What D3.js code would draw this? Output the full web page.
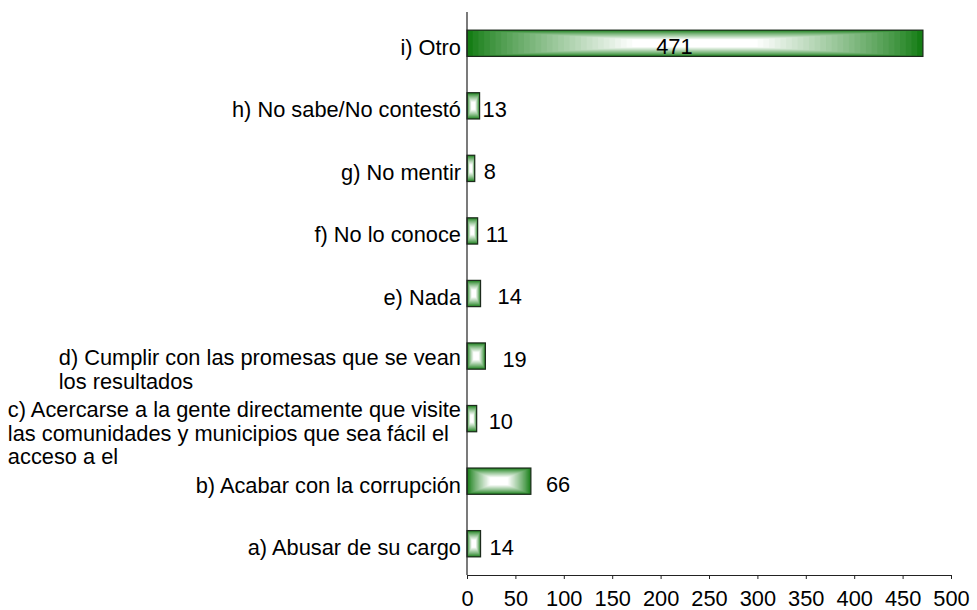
<!DOCTYPE html>
<html>
<head>
<meta charset="utf-8">
<script src="https://cdn.jsdelivr.net/npm/d3@7"></script>
<style>
  html, body { margin: 0; padding: 0; background: #fff; }
  svg text { font-family: Arial, "Liberation Sans", sans-serif; fill: #000; }
</style>
</head>
<body>
<svg id="chart" width="977" height="610"></svg>
<script>
// Category labels (bottom to top); "\n" marks a wrapped line
const categories = [
  "a) Abusar de su cargo",
  "b) Acabar con la corrupción",
  "c) Acercarse a la gente directamente que visite\nlas comunidades y municipios que sea fácil el\nacceso a el",
  "d) Cumplir con las promesas que se vean\nlos resultados",
  "e) Nada",
  "f) No lo conoce",
  "g) No mentir",
  "h) No sabe/No contestó",
  "i) Otro"
];
// Number of answers per category
const values = [14, 66, 10, 19, 14, 11, 8, 13, 471];
// Value-axis tick labels
const tickValues = [0, 50, 100, 150, 200, 250, 300, 350, 400, 450, 500];
// Space between each bar's end and its value label (px)
const labelGap = [9, 15, 12, 17, 17, 8, 9, 3, 0];

const fontSize = 21.8;
const lineHeight = 23.5;
const green = "#157d15";

const svg = d3.select("#chart");
const margin = { left: 467, right: 26, top: 12, bottom: 35 };
const W = 977, H = 610;

const x = d3.scaleLinear().domain([0, 500]).range([margin.left, W - margin.right]);
const y = d3.scaleBand().domain(categories.slice().reverse()).range([margin.top, H - margin.bottom]);
const barH = y.bandwidth() * 0.42;

const rows = categories.map((c, i) => ({ label: c, value: values[i], gap: labelGap[i] }));

// Bars: concentric rectangles give a green-to-white "from centre" fill
const steps = 40;
const shade = d3.interpolateRgb(green, "#ffffff");
const ease = t => Math.pow(Math.min(1, t / 0.72), 0.85);

const bars = svg.append("g").selectAll("g.bar").data(rows).join("g").attr("class", "bar");
bars.each(function (d) {
  const g = d3.select(this);
  const x0 = x(0), w = x(d.value) - x(0);
  const yc = y(d.label) + y.bandwidth() / 2;
  const y0 = yc - barH / 2;
  for (let k = 0; k < steps; k++) {
    const f = k / steps;
    g.append("rect")
      .attr("x", x0 + f * w / 2)
      .attr("y", y0 + f * barH / 2)
      .attr("width", w * (1 - f))
      .attr("height", barH * (1 - f))
      .attr("fill", shade(ease(f)));
  }
  g.append("rect")
    .attr("x", x0).attr("y", y0)
    .attr("width", w).attr("height", barH)
    .attr("fill", "none")
    .attr("stroke", "#1c2a1c")
    .attr("stroke-width", 1.2);
});

// Value labels
svg.append("g").selectAll("text").data(rows).join("text")
  .attr("font-size", fontSize)
  .attr("y", d => y(d.label) + y.bandwidth() / 2 + fontSize * 0.36 + 3)
  .attr("x", d => {
    const w = x(d.value) - x(0);
    return w > 200 ? x(0) + w * 0.455 : x(d.value) + d.gap;
  })
  .attr("text-anchor", d => (x(d.value) - x(0) > 200 ? "middle" : "start"))
  .text(d => d.value);

// Category labels: left-aligned blocks flush against the axis
const firstLineShift = { 1: 11.5, 2: 9, 3: -1.3 };
const labelRight = margin.left - 6;
const catText = svg.append("g").selectAll("text").data(rows).join("text")
  .attr("font-size", fontSize);
catText.each(function (d) {
  const t = d3.select(this);
  const lines = d.label.split("\n");
  const yc = y(d.label) + y.bandwidth() / 2;
  const base = yc + firstLineShift[lines.length];
  lines.forEach((ln, i) => {
    t.append("tspan").attr("y", base + i * lineHeight).text(ln);
  });
  if (lines.length === 1) {
    t.attr("text-anchor", "end").selectAll("tspan").attr("x", labelRight);
  } else {
    let maxW = 0;
    t.selectAll("tspan").each(function () { maxW = Math.max(maxW, this.getComputedTextLength()); });
    t.attr("text-anchor", "start").selectAll("tspan").attr("x", labelRight - maxW);
  }
});

// Category axis line
svg.append("line")
  .attr("x1", x(0)).attr("x2", x(0))
  .attr("y1", margin.top).attr("y2", H - margin.bottom)
  .attr("stroke", "#222").attr("stroke-width", 1.2);

// Value axis
const xAxis = svg.append("g")
  .attr("transform", `translate(0,${H - margin.bottom})`)
  .call(d3.axisBottom(x).tickValues(tickValues).tickSize(4).tickPadding(12).tickSizeOuter(0));
xAxis.select(".domain").attr("stroke", "#222").attr("stroke-width", 1.2);
xAxis.selectAll(".tick line").attr("stroke", "#222");
xAxis.selectAll(".tick text")
  .attr("font-size", fontSize)
  .attr("font-family", "Arial, 'Liberation Sans', sans-serif")
  .attr("fill", "#000");
</script>
</body>
</html>
